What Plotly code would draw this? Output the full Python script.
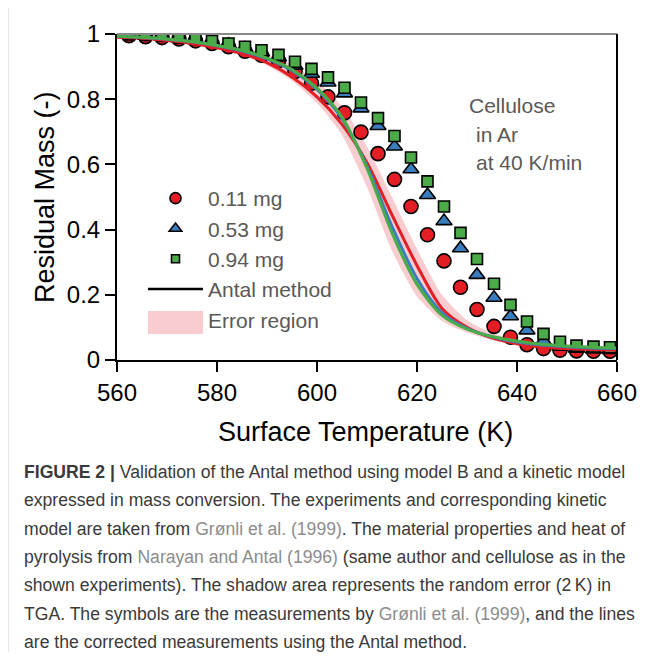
import plotly.graph_objects as go

# ---------------- data ----------------
T_meas = [562.4, 565.7, 569.0, 572.4, 575.7, 579.0, 582.3, 585.6, 588.9, 592.3,
          595.6, 598.9, 602.2, 605.5, 608.8, 612.2, 615.5, 618.8, 622.1, 625.4,
          628.7, 632.0, 635.4, 638.7, 642.0, 645.3, 648.6, 651.9, 655.3, 658.6]
m011 = [0.995, 0.992, 0.989, 0.985, 0.979, 0.971, 0.961, 0.947, 0.935, 0.918,
        0.885, 0.849, 0.807, 0.758, 0.699, 0.633, 0.554, 0.471, 0.384, 0.304,
        0.223, 0.155, 0.103, 0.070, 0.047, 0.035, 0.030, 0.028, 0.027, 0.027]
m053 = [0.998, 0.995, 0.992, 0.987, 0.982, 0.976, 0.967, 0.956, 0.944, 0.928,
        0.903, 0.878, 0.851, 0.818, 0.772, 0.718, 0.655, 0.585, 0.506, 0.426,
        0.343, 0.261, 0.191, 0.134, 0.091, 0.058, 0.041, 0.035, 0.032, 0.031]
m094 = [0.999, 0.997, 0.994, 0.989, 0.984, 0.979, 0.971, 0.961, 0.950, 0.936,
        0.915, 0.893, 0.867, 0.835, 0.790, 0.742, 0.687, 0.621, 0.548, 0.471,
        0.390, 0.310, 0.234, 0.169, 0.118, 0.080, 0.056, 0.044, 0.041, 0.039]

T_line = [560, 565, 570, 575, 580, 585, 590, 595, 600, 605, 610,
          615, 620, 625, 630, 635, 640, 645, 650, 655, 660]
antal_011 = [0.990, 0.987, 0.980, 0.971, 0.958, 0.940, 0.912, 0.868, 0.807, 0.723, 0.605,
             0.445, 0.290, 0.158, 0.100, 0.068, 0.050, 0.040, 0.035, 0.032, 0.030]
antal_053 = [0.992, 0.989, 0.984, 0.976, 0.964, 0.948, 0.924, 0.888, 0.830, 0.740, 0.595,
             0.410, 0.250, 0.145, 0.097, 0.071, 0.055, 0.046, 0.041, 0.037, 0.035]
antal_094 = [0.993, 0.990, 0.985, 0.977, 0.965, 0.950, 0.926, 0.891, 0.834, 0.745, 0.588,
             0.390, 0.232, 0.137, 0.095, 0.072, 0.058, 0.048, 0.043, 0.039, 0.037]
err_hi = [0.995, 0.992, 0.988, 0.981, 0.971, 0.958, 0.938, 0.906, 0.855, 0.778, 0.655,
          0.500, 0.340, 0.200, 0.122, 0.083, 0.061, 0.050, 0.044, 0.040, 0.037]
err_lo = [0.989, 0.986, 0.978, 0.969, 0.954, 0.935, 0.903, 0.856, 0.788, 0.690, 0.530,
          0.335, 0.195, 0.120, 0.084, 0.061, 0.046, 0.038, 0.033, 0.030, 0.028]

x_ticks = [560, 580, 600, 620, 640, 660]
y_ticks = [0, 0.2, 0.4, 0.6, 0.8, 1]
y_ticktext = ["0", "0.2", "0.4", "0.6", "0.8", "1"]

GRAY_LINK = "#8c8c8c"
caption_lines = [
    "<b>FIGURE 2 |</b> Validation of the Antal method using model B and a kinetic model",
    "expressed in mass conversion. The experiments and corresponding kinetic",
    f"model are taken from <span style='color:{GRAY_LINK}'>Grønli et al. (1999)</span>. The material properties and heat of",
    f"pyrolysis from <span style='color:{GRAY_LINK}'>Narayan and Antal (1996)</span> (same author and cellulose as in the",
    "shown experiments). The shadow area represents the random error (2\u2009K) in",
    f"TGA. The symbols are the measurements by <span style='color:{GRAY_LINK}'>Grønli et al. (1999)</span>, and the lines",
    "are the corrected measurements using the Antal method.",
]

# ---------------- style ----------------
RED = "#e31e24"
BLUE = "#3a7dbf"
GREEN = "#4aab48"
PINK = "rgb(249,205,208)"
FONT = "Liberation Sans, Arial, sans-serif"

# page geometry (the page body adds an 8 px offset)
OFF = 8
FIG_W, FIG_H = 657 - 2 * OFF, 660 - 2 * OFF
L, R, TOP, BOT = 117, 617, 34, 360          # plot area in page pixels
W, H = R - L, BOT - TOP


def px(xp):
    return (xp - L) / W


def py(yp):
    return (BOT - yp) / H


fig = go.Figure()

# error band
fig.add_trace(go.Scatter(
    x=T_line + T_line[::-1], y=err_hi + err_lo[::-1],
    fill="toself", fillcolor=PINK, line=dict(width=0, shape="spline", smoothing=0.6),
    mode="lines", name="Error region", legendrank=5, hoverinfo="skip"))

# measurements
series = [("0.11 mg", m011, "circle", 14, 11, RED, 1),
          ("0.53 mg", m053, "triangle-up", 14, 11, BLUE, 2),
          ("0.94 mg", m094, "square", 11, 8, GREEN, 3)]
for name, vals, sym, size, lsize, col, rank in series:
    fig.add_trace(go.Scatter(
        x=T_meas, y=vals, mode="markers", name=name, showlegend=False,
        marker=dict(symbol=sym, size=size, color=col, line=dict(color="black", width=1.6))))
    # legend entry with the smaller legend symbol
    fig.add_trace(go.Scatter(
        x=[None], y=[None], mode="markers", name=name, legendrank=rank,
        marker=dict(symbol=sym, size=lsize, color=col, line=dict(color="black", width=1.6))))

# Antal-corrected lines
for vals, col in [(antal_011, RED), (antal_053, BLUE), (antal_094, GREEN)]:
    fig.add_trace(go.Scatter(
        x=T_line, y=vals, mode="lines", showlegend=False,
        line=dict(color=col, width=3, shape="spline", smoothing=0.8)))

# legend proxy for the method line
fig.add_trace(go.Scatter(
    x=[None], y=[None], mode="lines", name="Antal method", legendrank=4,
    line=dict(color="black", width=2.5)))

annotations = [
    dict(text="Residual Mass (-)", x=px(45), y=py(197), xref="paper", yref="paper",
         xanchor="center", yanchor="middle",
         textangle=-90, showarrow=False, font=dict(size=27, color="black", family=FONT)),
    dict(text="Surface Temperature (K)", x=px(365), y=py(432), xref="paper", yref="paper",
         xanchor="center", yanchor="middle",
         showarrow=False, font=dict(size=27, color="black", family=FONT)),
    dict(text="Cellulose", x=px(467), y=py(106), xref="paper", yref="paper",
         xanchor="left", yanchor="middle",
         showarrow=False, font=dict(size=21, color="#595959", family=FONT)),
    dict(text="in Ar", x=px(474), y=py(134), xref="paper", yref="paper",
         xanchor="left", yanchor="middle",
         showarrow=False, font=dict(size=21, color="#595959", family=FONT)),
    dict(text="at 40 K/min", x=px(474), y=py(162), xref="paper", yref="paper",
         xanchor="left", yanchor="middle",
         showarrow=False, font=dict(size=21, color="#595959", family=FONT)),
]
for i, line in enumerate(caption_lines):
    annotations.append(dict(
        text=line, x=px(22), y=py(472 + 28.3 * i), xref="paper", yref="paper",
        xanchor="left", yanchor="middle", showarrow=False, align="left",
        font=dict(size=17.6, color="#3a3a3a", family=FONT)))

shapes = [
    # top frame (gray) and right frame (black)
    dict(type="line", xref="paper", yref="paper", x0=0, x1=1, y0=1, y1=1,
         line=dict(color="#8a8a8a", width=2)),
    dict(type="line", xref="paper", yref="paper", x0=1, x1=1, y0=0, y1=1,
         line=dict(color="black", width=2)),
    # caption box left border
    dict(type="line", xref="paper", yref="paper", x0=px(7.5), x1=px(7.5), y0=py(662), y1=py(-2),
         line=dict(color="#9a9a9a", width=1.5)),
    # error-region legend swatch
    dict(type="rect", xref="paper", yref="paper", x0=px(148), x1=px(203), y0=py(334), y1=py(311),
         fillcolor=PINK, line=dict(width=0), layer="above"),
]

fig.update_layout(
    width=FIG_W, height=FIG_H,
    margin=dict(l=L - OFF, r=FIG_W - (R - OFF), t=TOP - OFF, b=FIG_H - (BOT - OFF), autoexpand=False),
    paper_bgcolor="white", plot_bgcolor="white",
    font=dict(family=FONT, color="black"),
    showlegend=True,
    legend=dict(x=px(143), y=py(178), xanchor="left", yanchor="top",
                bgcolor="rgba(0,0,0,0)", font=dict(size=21, color="#595959", family=FONT),
                itemwidth=55, tracegroupgap=0),
    annotations=annotations,
    shapes=shapes,
)
fig.update_xaxes(range=[560, 660], tickvals=x_ticks, ticks="outside", ticklen=10, tickwidth=1.5,
                 tickcolor="black", showline=True, linecolor="black", linewidth=2,
                 showgrid=False, zeroline=False, tickfont=dict(size=24, color="black", family=FONT))
fig.update_yaxes(range=[0, 1], tickvals=y_ticks, ticktext=y_ticktext, ticks="outside", ticklen=10,
                 tickwidth=1.5, tickcolor="black", showline=True, linecolor="black", linewidth=2,
                 showgrid=False, zeroline=False, tickfont=dict(size=24, color="black", family=FONT))

fig.write_html("out.html")
